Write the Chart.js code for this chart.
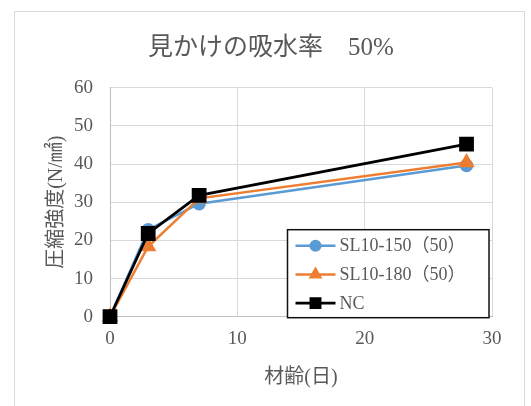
<!DOCTYPE html>
<html>
<head>
<meta charset="utf-8">
<script src="https://cdn.jsdelivr.net/npm/chart.js@4"></script>
<style>
  html, body { margin: 0; padding: 0; background: #fff; }
  canvas { display: block; }
</style>
</head>
<body>
<canvas id="c" width="531" height="406"></canvas>
<script>
// Compressive strength vs. curing age, apparent water absorption 50%
const days = [0, 3, 7, 28];
const sl150 = [0, 22.8, 29.6, 39.6];
const sl180 = [0, 18.4, 31.0, 40.4];
const nc = [0, 21.8, 31.8, 45.2];
const seriesNames = ['SL10-150（50）', 'SL10-180（50）', 'NC'];
const xTicks = [0, 10, 20, 30];
const yTicks = [0, 10, 20, 30, 40, 50, 60];

const FONT = "'Liberation Serif', 'Noto Sans CJK JP', serif";
const TEXT = '#595959';

function pts(ys) { return days.map((d, i) => ({ x: d, y: ys[i] })); }

// outer frame of the chart
const framePlugin = {
  id: 'frame',
  beforeDraw(chart) {
    const ctx = chart.ctx;
    ctx.save();
    ctx.fillStyle = '#fff';
    ctx.fillRect(0, 0, chart.width, chart.height);
    ctx.strokeStyle = '#d9d9d9';
    ctx.lineWidth = 1;
    ctx.strokeRect(14.5, 11.5, 510, 420);
    ctx.restore();
  },
  afterLayout(chart) {
    // centre the title over the frame rather than the padded box
    if (chart.titleBlock) {
      chart.titleBlock.left = 11;
      chart.titleBlock.right = 531;
    }
  }
};

// boxed legend inside the lower-right of the plot area
const boxLegend = {
  id: 'boxLegend',
  afterDraw(chart) {
    const ctx = chart.ctx;
    const area = chart.chartArea;
    const box = { x: area.right - 204.5, y: area.bottom - 87, w: 201.5, h: 88 };
    ctx.save();
    ctx.fillStyle = '#fff';
    ctx.fillRect(box.x, box.y, box.w, box.h);
    ctx.strokeStyle = '#111';
    ctx.lineWidth = 1.5;
    ctx.strokeRect(box.x, box.y, box.w, box.h);
    const rowH = 28.7;
    chart.data.datasets.forEach((ds, i) => {
      const cy = box.y + 16 + i * rowH;
      const x0 = box.x + 8, x1 = box.x + 48;
      ctx.strokeStyle = ds.borderColor;
      ctx.lineWidth = ds.borderWidth;
      ctx.beginPath();
      ctx.moveTo(x0, cy);
      ctx.lineTo(x1, cy);
      ctx.stroke();
      ctx.fillStyle = ds.pointBackgroundColor;
      ctx.strokeStyle = ds.pointBorderColor;
      Chart.helpers.drawPoint(ctx, {
        pointStyle: ds.pointStyle,
        radius: ds.legendRadius,
        rotation: 0,
        borderWidth: 1
      }, (x0 + x1) / 2, cy);
      ctx.fillStyle = TEXT;
      ctx.font = '18px ' + FONT;
      ctx.textBaseline = 'middle';
      ctx.textAlign = 'left';
      ctx.fillText(ds.label, x1 + 4, cy + 1);
    });
    ctx.restore();
  }
};

const colors = ['#5b9bd5', '#ed7d31', '#000000'];

new Chart(document.getElementById('c'), {
  type: 'line',
  data: {
    datasets: [
      {
        label: seriesNames[0], data: pts(sl150), order: 2, clip: false,
        borderColor: colors[0], backgroundColor: colors[0],
        pointBackgroundColor: colors[0], pointBorderColor: colors[0],
        borderWidth: 2.5, pointStyle: 'circle', pointRadius: 5.5, legendRadius: 4.8
      },
      {
        label: seriesNames[1], data: pts(sl180), order: 1, clip: false,
        borderColor: colors[1], backgroundColor: colors[1],
        pointBackgroundColor: colors[1], pointBorderColor: colors[1],
        borderWidth: 2.5, pointStyle: 'triangle', pointRadius: 7, legendRadius: 5.5
      },
      {
        label: seriesNames[2], data: pts(nc), order: 0, clip: false,
        borderColor: colors[2], backgroundColor: colors[2],
        pointBackgroundColor: colors[2], pointBorderColor: colors[2],
        borderWidth: 2.75, pointStyle: 'rect', pointRadius: 8.5, legendRadius: 6.5
      }
    ]
  },
  options: {
    responsive: false,
    animation: false,
    layout: { padding: { left: 0, right: 39, top: 0, bottom: 0 } },
    elements: {
      line: { tension: 0, fill: false },
      point: { borderWidth: 1, hoverRadius: 6 }
    },
    plugins: {
      legend: { display: false },
      tooltip: { enabled: false },
      title: {
        display: true,
        text: '見かけの吸水率　50%',
        color: TEXT,
        font: { family: FONT, size: 25, weight: 'normal', lineHeight: 1.2 },
        padding: { top: 33, bottom: 24.7 }
      }
    },
    scales: {
      x: {
        type: 'linear',
        min: 0, max: 30,
        afterBuildTicks(scale) { scale.ticks = xTicks.map(v => ({ value: v })); },
        afterFit(scale) { scale.height = 89.3; },
        ticks: {
          color: TEXT,
          font: { family: FONT, size: 19 },
          padding: 11,
          maxRotation: 0
        },
        grid: { color: '#d9d9d9', drawTicks: false, lineWidth: 1 },
        border: { color: '#bfbfbf', width: 1 },
        title: {
          display: true,
          text: '材齢(日)',
          color: TEXT,
          font: { family: FONT, size: 20, lineHeight: 1.2 },
          padding: { top: 0, bottom: 16 }
        }
      },
      y: {
        min: 0, max: 60,
        afterBuildTicks(scale) { scale.ticks = yTicks.map(v => ({ value: v })); },
        afterFit(scale) { scale.width = 110; },
        ticks: {
          color: TEXT,
          font: { family: FONT, size: 19 },
          padding: 17
        },
        grid: { color: '#d9d9d9', drawTicks: false, lineWidth: 1 },
        border: { color: '#bfbfbf', width: 1 },
        title: {
          display: true,
          text: '圧縮強度(N/㎟)',
          color: TEXT,
          font: { family: FONT, size: 20, lineHeight: 1.2 },
          padding: { top: 45, bottom: 0 }
        }
      }
    }
  },
  plugins: [framePlugin, boxLegend]
});
</script>
</body>
</html>
